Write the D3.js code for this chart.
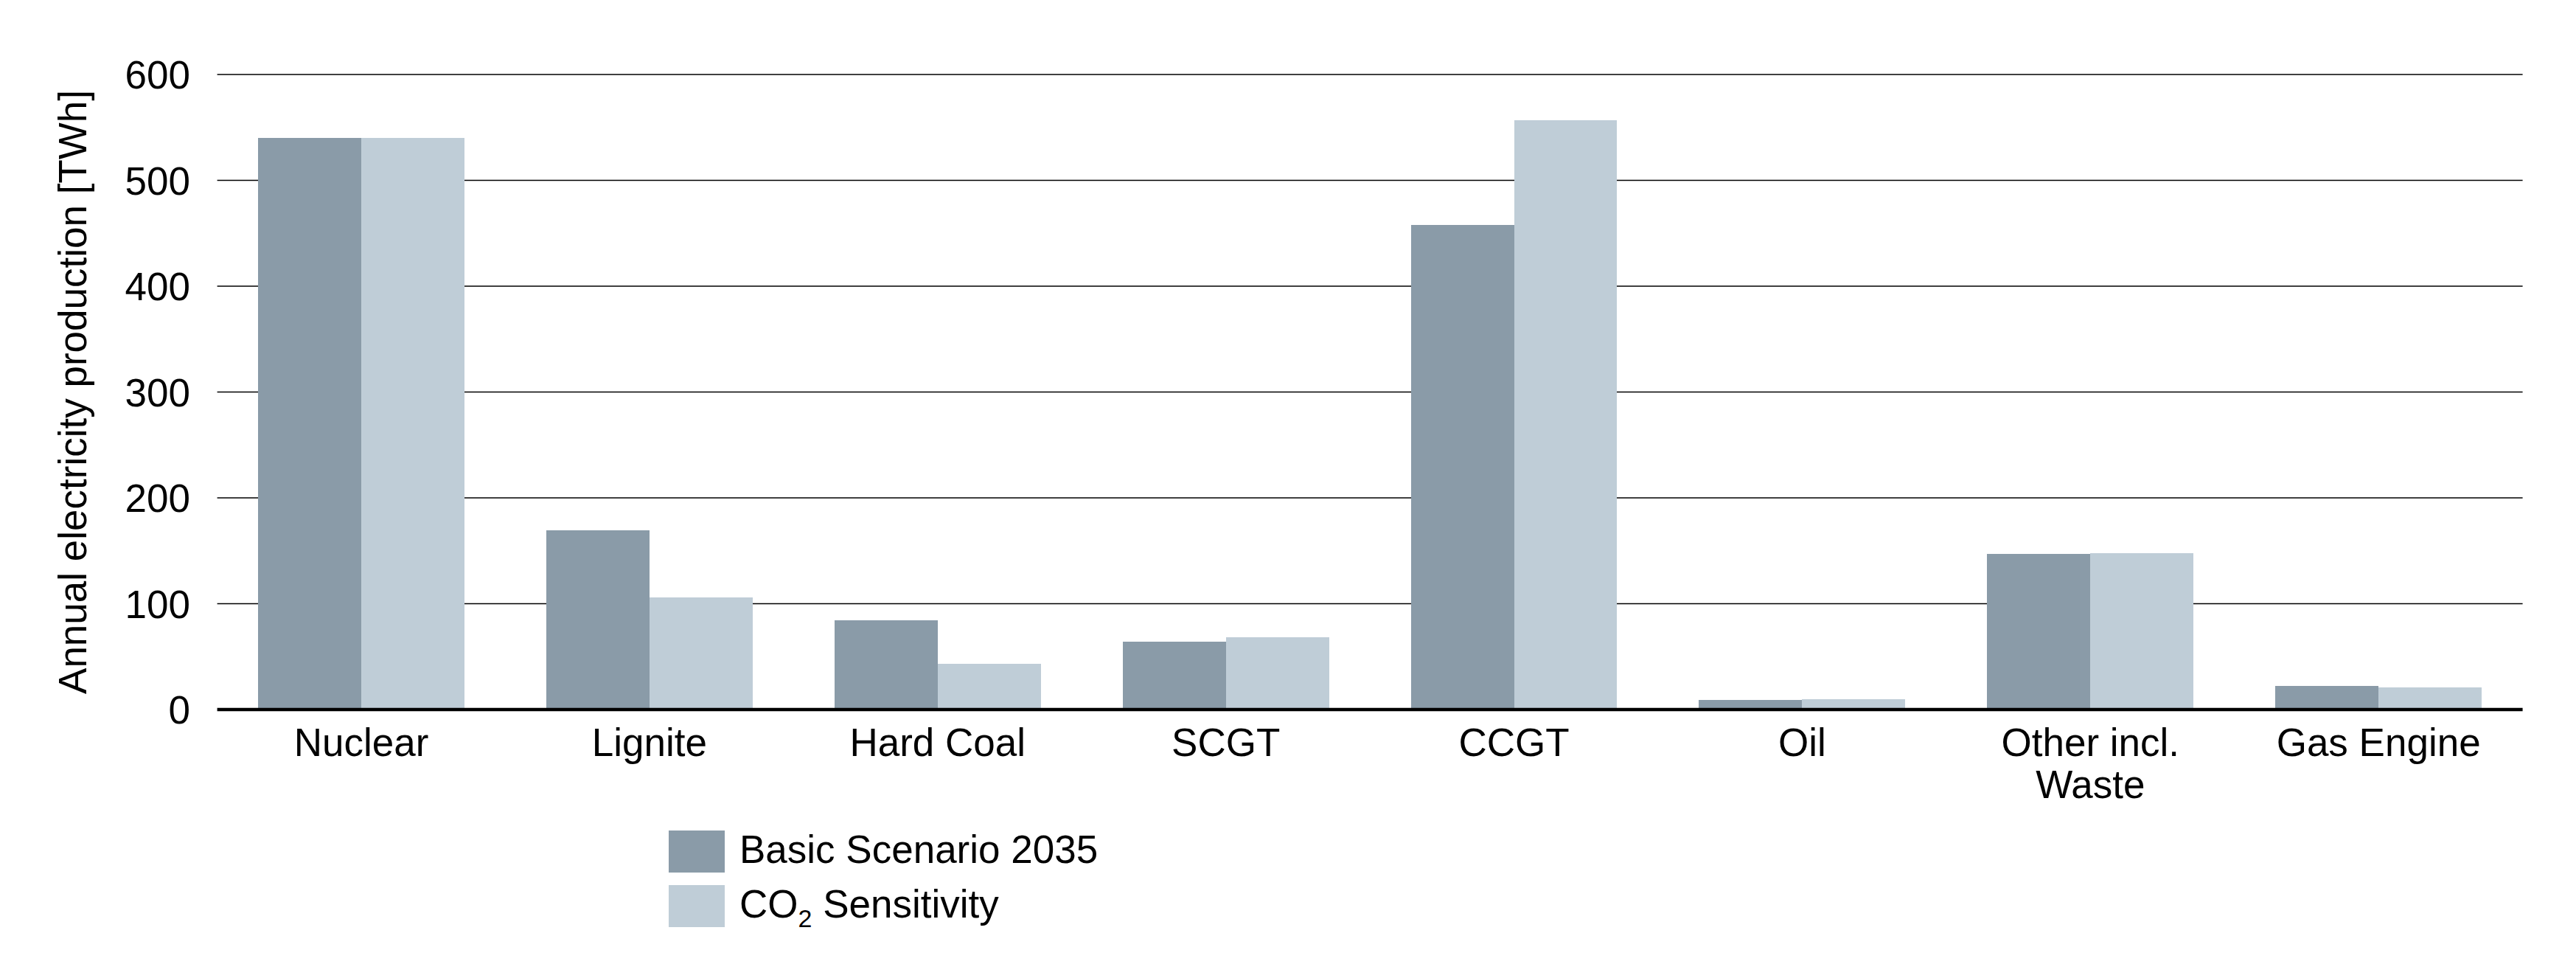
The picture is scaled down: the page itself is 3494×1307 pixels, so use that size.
<!DOCTYPE html>
<html>
<head>
<meta charset="utf-8">
<script src="https://cdn.jsdelivr.net/npm/d3@7"></script>
<style>
  html, body { margin: 0; padding: 0; background: #ffffff; }
  svg { display: block; }
  text { font-family: "Liberation Sans", Arial, Helvetica, sans-serif; fill: #000; }
</style>
</head>
<body>
<svg id="chart" width="3494" height="1307"></svg>
<script>
// ---- Data ----
const categories = ["Nuclear", "Lignite", "Hard Coal", "SCGT", "CCGT", "Oil", "Other incl.\nWaste", "Gas Engine"];
const basicScenario2035 = [540, 169, 84, 64, 458, 9, 147, 22];
const co2Sensitivity   = [540, 106, 43, 68, 557, 10, 148, 21];
const seriesNames = ["Basic Scenario 2035", "CO2 Sensitivity"];
const yTicks = [0, 100, 200, 300, 400, 500, 600];
const yTitle = "Annual electricity production [TWh]";

// ---- Layout ----
const chartW = 3494, chartH = 1307;
const plotLeft = 294.6, plotRight = 3421.6, plotTop = 101, plotBottom = 962;
const colors = ["#8a9ba8", "#bfcdd7"];
const fontSize = 53;

const svg = d3.select("#chart");
svg.append("rect").attr("width", chartW).attr("height", chartH).attr("fill", "#fff");

const x0 = d3.scaleBand().domain(categories).range([plotLeft, plotRight]).paddingInner(0.284).paddingOuter(0.142);
const x1 = d3.scaleBand().domain(seriesNames).range([0, x0.bandwidth()]).padding(0);
const y = d3.scaleLinear().domain([0, 600]).range([plotBottom, plotTop]);

// gridlines
svg.append("g").selectAll("line").data(yTicks.filter(t => t !== 0)).join("line")
  .attr("x1", plotLeft).attr("x2", plotRight)
  .attr("y1", d => y(d)).attr("y2", d => y(d))
  .attr("stroke", "#000").attr("stroke-width", 1.6);

// bars
const seriesData = [basicScenario2035, co2Sensitivity];
const rows = categories.map((c, i) => ({ cat: c, vals: seriesData.map((s, k) => ({ name: seriesNames[k], v: s[i], k })) }));
const g = svg.append("g").selectAll("g").data(rows).join("g")
  .attr("transform", d => `translate(${x0(d.cat)},0)`);
g.selectAll("rect").data(d => d.vals).join("rect")
  .attr("x", d => x1(d.name))
  .attr("width", x1.bandwidth())
  .attr("y", d => y(d.v))
  .attr("height", d => y(0) - y(d.v))
  .attr("fill", d => colors[d.k])
  .attr("shape-rendering", "crispEdges");

// baseline
svg.append("line").attr("x1", plotLeft).attr("x2", plotRight)
  .attr("y1", y(0)).attr("y2", y(0))
  .attr("stroke", "#000").attr("stroke-width", 4.5);

// y tick labels
svg.append("g").selectAll("text").data(yTicks).join("text")
  .attr("x", 258).attr("y", d => y(d))
  .attr("dy", "0.36em")
  .attr("text-anchor", "end")
  .style("font-size", fontSize + "px")
  .text(d => d);

// y axis title
svg.append("text")
  .attr("transform", `translate(117,${(plotTop + plotBottom) / 2}) rotate(-90)`)
  .attr("text-anchor", "middle")
  .style("font-size", fontSize + "px")
  .text(yTitle);

// category labels
const cl = svg.append("g").selectAll("text").data(categories).join("text")
  .attr("x", d => x0(d) + x0.bandwidth() / 2)
  .attr("y", 1025)
  .attr("text-anchor", "middle")
  .style("font-size", fontSize + "px");
cl.selectAll("tspan").data(d => d.split("\n")).join("tspan")
  .attr("x", function() { return d3.select(this.parentNode).attr("x"); })
  .attr("dy", (d, i) => i === 0 ? 0 : 57)
  .text(d => d);

// legend
const legend = svg.append("g").attr("transform", "translate(907,1126)");
const li = legend.selectAll("g").data(seriesNames).join("g")
  .attr("transform", (d, i) => `translate(0,${i * 74})`);
li.append("rect").attr("width", 76).attr("height", 57).attr("fill", (d, i) => colors[i]);
li.each(function(d, i) {
  const t = d3.select(this).append("text").attr("x", 96).attr("y", 44).style("font-size", fontSize + "px");
  if (d === "CO2 Sensitivity") {
    t.append("tspan").text("CO");
    t.append("tspan").text("2").style("font-size", "34px").attr("dy", 13);
    t.append("tspan").text(" Sensitivity").attr("dy", -13);
  } else {
    t.text(d);
  }
});
</script>
</body>
</html>
